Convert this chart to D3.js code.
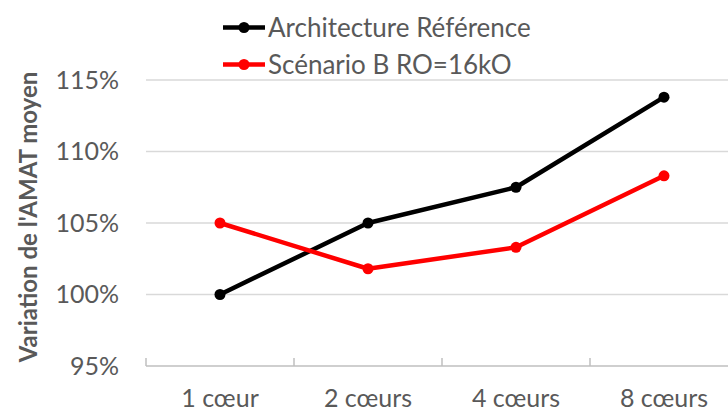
<!DOCTYPE html>
<html>
<head>
<meta charset="utf-8">
<script src="https://cdn.jsdelivr.net/npm/d3@7"></script>
<style>
  html, body { margin: 0; padding: 0; background: #fff; }
  svg { display: block; font-family: Lato, "Open Sans", sans-serif; }
</style>
</head>
<body>
<svg id="chart" width="728" height="412"></svg>
<script>
// Average memory access time, relative to the 1-core reference architecture
const categories = ["1 cœur", "2 cœurs", "4 cœurs", "8 cœurs"];
const reference = [100.0, 105.0, 107.5, 113.8];
const scenarioB = [105.0, 101.8, 103.3, 108.3];
const yTicks = [95, 100, 105, 110, 115];
const seriesNames = ["Architecture Référence", "Scénario B RO=16kO"];
const seriesColors = ["#000000", "#ff0000"];

const svg = d3.select("#chart");
const textColor = "#595959";

const x = d3.scaleBand().domain(categories).range([146, 738]).padding(0);
const y = d3.scaleLinear().domain([95, 115]).range([366, 80]);

// horizontal gridlines
svg.append("g")
  .selectAll("line")
  .data(yTicks.filter(t => t !== 95))
  .join("line")
  .attr("x1", 146).attr("x2", 738)
  .attr("y1", d => y(d)).attr("y2", d => y(d))
  .attr("stroke", "#d9d9d9").attr("stroke-width", 1.5);

// y tick labels
svg.append("g")
  .selectAll("text")
  .data(yTicks)
  .join("text")
  .attr("x", 119)
  .attr("y", d => y(d))
  .attr("dy", "0.35em")
  .attr("text-anchor", "end")
  .attr("fill", textColor)
  .attr("font-size", 25)
  .text(d => d + "%");

// x axis: line, category boundary ticks, labels
const xAxis = svg.append("g");
xAxis.append("line")
  .attr("x1", 146).attr("x2", 738)
  .attr("y1", y(95)).attr("y2", y(95))
  .attr("stroke", "#bfbfbf").attr("stroke-width", 1.5);
xAxis.selectAll("line.tick")
  .data(categories)
  .join("line")
  .attr("class", "tick")
  .attr("x1", d => x(d)).attr("x2", d => x(d))
  .attr("y1", y(95)).attr("y2", y(95) - 8)
  .attr("stroke", "#bfbfbf").attr("stroke-width", 1.5);
xAxis.selectAll("text")
  .data(categories)
  .join("text")
  .attr("x", d => x(d) + x.bandwidth() / 2)
  .attr("y", 407)
  .attr("text-anchor", "middle")
  .attr("fill", textColor)
  .attr("font-size", 25)
  .text(d => d);

// y axis title
svg.append("text")
  .attr("transform", "translate(37,217) rotate(-90)")
  .attr("text-anchor", "middle")
  .attr("fill", textColor)
  .attr("font-size", 24)
  .attr("font-weight", "bold")
  .text("Variation de l'AMAT moyen");

// series lines and markers
const series = [reference, scenarioB];
const line = d3.line()
  .x((d, i) => x(categories[i]) + x.bandwidth() / 2)
  .y(d => y(d));

series.forEach((vals, s) => {
  const g = svg.append("g");
  g.append("path")
    .datum(vals)
    .attr("d", line)
    .attr("fill", "none")
    .attr("stroke", seriesColors[s])
    .attr("stroke-width", 4.5)
    .attr("stroke-linejoin", "round");
  g.selectAll("circle")
    .data(vals)
    .join("circle")
    .attr("cx", (d, i) => x(categories[i]) + x.bandwidth() / 2)
    .attr("cy", d => y(d))
    .attr("r", 5.5)
    .attr("fill", seriesColors[s]);
});

// legend
const legend = svg.append("g");
const legendRows = [27.5, 64.5];
seriesNames.forEach((name, s) => {
  const row = legend.append("g").attr("transform", `translate(0,${legendRows[s]})`);
  row.append("line")
    .attr("x1", 223).attr("x2", 265)
    .attr("stroke", seriesColors[s]).attr("stroke-width", 4.5);
  row.append("circle")
    .attr("cx", 244).attr("r", 5.5)
    .attr("fill", seriesColors[s]);
  row.append("text")
    .attr("x", 268)
    .attr("dy", "0.35em")
    .attr("fill", textColor)
    .attr("font-size", 26)
    .text(name);
});
</script>
</body>
</html>
